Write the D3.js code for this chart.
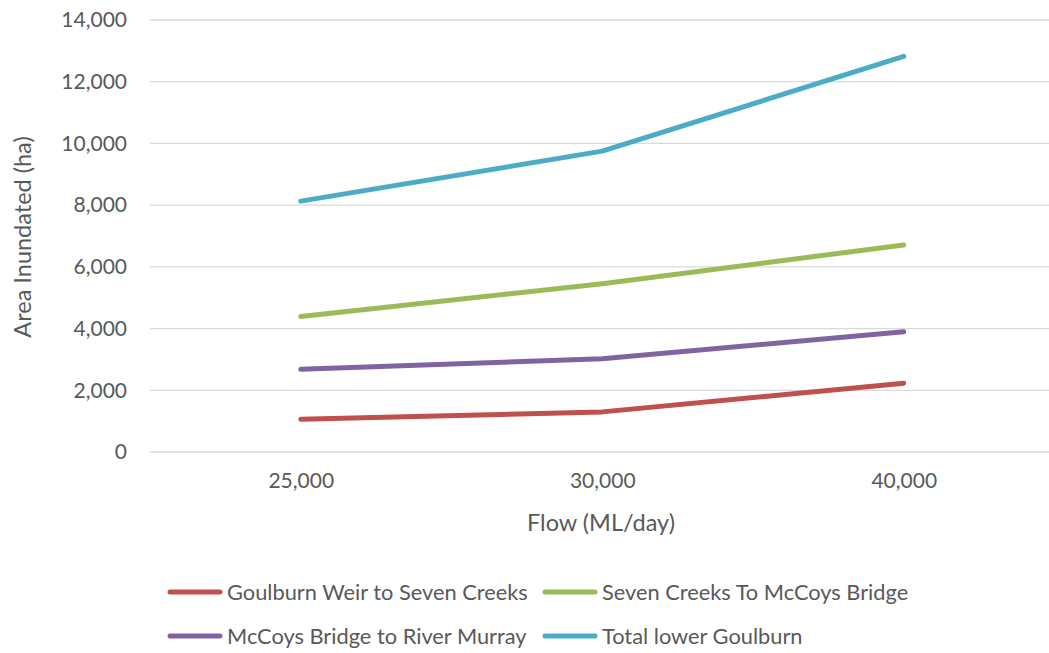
<!DOCTYPE html>
<html>
<head>
<meta charset="utf-8">
<script src="https://cdn.jsdelivr.net/npm/d3@7"></script>
<style>
  html, body { margin: 0; padding: 0; background: #fff; }
  svg { display: block; font-family: Lato, "Open Sans", sans-serif; }
</style>
</head>
<body>
<svg id="chart" width="1049" height="653"></svg>
<script>
// Flow categories (ML/day)
const flows = ["25,000", "30,000", "40,000"];
// Area inundated (ha) per reach
const goulburnWeirToSevenCreeks = [1060, 1300, 2230];
const sevenCreeksToMcCoys = [4390, 5450, 6710];
const mcCoysToMurray = [2680, 3020, 3900];
const totalLowerGoulburn = [8130, 9750, 12820];
const seriesNames = [
  "Goulburn Weir to Seven Creeks",
  "Seven Creeks To McCoys Bridge",
  "McCoys Bridge to River Murray",
  "Total lower Goulburn"
];
const seriesColors = ["#C0504D", "#9BBB59", "#8064A2", "#4BACC6"];
const yTicks = [0, 2000, 4000, 6000, 8000, 10000, 12000, 14000];

const series = [goulburnWeirToSevenCreeks, sevenCreeksToMcCoys, mcCoysToMurray, totalLowerGoulburn]
  .map((vals, i) => ({ name: seriesNames[i], color: seriesColors[i], values: vals }));

const svg = d3.select("#chart");
const plotLeft = 150, plotRight = 1054.5, plotTop = 20, plotBottom = 452;
const textColor = "#595959";
const font = "Lato, 'Open Sans', sans-serif";

const x = d3.scalePoint().domain(flows).range([plotLeft, plotRight]).padding(0.5);
const y = d3.scaleLinear().domain([0, 14000]).range([plotBottom, plotTop]);
const fmt = d3.format(",");

// Horizontal gridlines
svg.append("g")
  .selectAll("line")
  .data(yTicks)
  .join("line")
  .attr("x1", plotLeft).attr("x2", 1049)
  .attr("y1", d => y(d)).attr("y2", d => y(d))
  .attr("stroke", "#d9d9d9").attr("stroke-width", 1.3);

// Y axis labels
const yAxis = svg.append("g")
  .attr("transform", "translate(127,0)")
  .call(d3.axisLeft(y).tickValues(yTicks).tickFormat(fmt).tickSize(0).tickPadding(0));
yAxis.select(".domain").remove();
yAxis.selectAll("text")
  .attr("font-size", 21).attr("fill", textColor).attr("font-family", font);

// X axis labels
const xAxis = svg.append("g")
  .attr("transform", `translate(0,${plotBottom + 21})`)
  .call(d3.axisBottom(x).tickSize(0).tickPadding(0));
xAxis.select(".domain").remove();
xAxis.selectAll("text")
  .attr("font-size", 21).attr("fill", textColor).attr("font-family", font);

// Axis titles
svg.append("text")
  .attr("transform", `translate(31,237) rotate(-90)`)
  .attr("text-anchor", "middle")
  .attr("font-size", 23.5).attr("fill", textColor).attr("font-family", font)
  .text("Area Inundated (ha)");

svg.append("text")
  .attr("x", 601).attr("y", 531)
  .attr("text-anchor", "middle")
  .attr("font-size", 23.5).attr("fill", textColor).attr("font-family", font)
  .text("Flow (ML/day)");

// Series lines
const line = d3.line()
  .x((d, i) => x(flows[i]))
  .y(d => y(d));

svg.append("g")
  .selectAll("path")
  .data(series)
  .join("path")
  .attr("d", d => line(d.values))
  .attr("fill", "none")
  .attr("stroke", d => d.color)
  .attr("stroke-width", 5)
  .attr("stroke-linecap", "round")
  .attr("stroke-linejoin", "round");

// Legend
const legendPos = [
  { x: 170, y: 592 }, { x: 545, y: 592 },
  { x: 170, y: 636 }, { x: 545, y: 636 }
];
const legend = svg.append("g")
  .selectAll("g")
  .data(series)
  .join("g")
  .attr("transform", (d, i) => `translate(${legendPos[i].x},${legendPos[i].y})`);
legend.append("line")
  .attr("x1", 0).attr("x2", 50)
  .attr("stroke", d => d.color)
  .attr("stroke-width", 5)
  .attr("stroke-linecap", "round");
legend.append("text")
  .attr("x", 57).attr("y", 0).attr("dy", "0.35em")
  .attr("font-size", 21.8).attr("fill", textColor).attr("font-family", font)
  .text(d => d.name);
</script>
</body>
</html>
